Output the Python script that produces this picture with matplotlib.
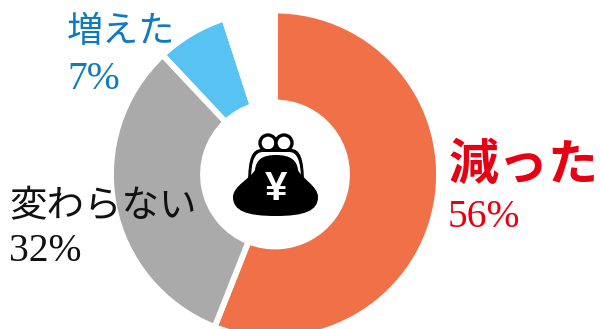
import matplotlib
matplotlib.use("Agg")
import matplotlib.pyplot as plt
from matplotlib.path import Path
from matplotlib.patches import PathPatch, Circle

W, H = 600, 329

# 5 is the blank wedge at the top left of the ring
labels = ["減った", "変わらない", "増えた", ""]
values = [56, 32, 7, 5]
pct_labels = ["56%", "32%", "7%"]
colors = ["#F07048", "#A9AAA9", "#58C2F2", "#FFFFFF"]

fig = plt.figure(figsize=(W / 100, H / 100), dpi=100)
ax = fig.add_axes([0, 0, 1, 1])

cx, cy = 275, 174.5


def py(y):
    # picture rows to axes y
    return H - y


ax.pie(
    values,
    colors=colors,
    startangle=90,
    counterclock=False,
    center=(cx, py(cy)),
    radius=164,
    wedgeprops=dict(width=92, edgecolor="white", linewidth=4.2),
)
ax.set_xlim(0, W)
ax.set_ylim(0, H)
ax.set_aspect("equal")
ax.axis("off")

jp = ["Noto Sans CJK JP", "DejaVu Sans"]
serif = ["Liberation Serif", "DejaVu Serif"]

ax.text(67, py(32), labels[2], color="#0F7AC0", fontsize=26, family=jp, va="center", ha="left")
ax.text(67, py(89), pct_labels[2], color="#0F7AC0", fontsize=28.5, family=serif, va="baseline", ha="left")
ax.text(9, py(207), labels[1], color="#111111", fontsize=27, family=jp, va="center", ha="left", zorder=6)
ax.text(9, py(261), pct_labels[1], color="#111111", fontsize=28.5, family=serif, va="baseline", ha="left")
ax.text(449, py(165), labels[0], color="#E60012", fontsize=36, family=jp, weight="bold", va="center", ha="left")
ax.text(448, py(227), pct_labels[0], color="#E60012", fontsize=28.5, family=serif, va="baseline", ha="left")

# purse icon
ax.add_patch(Circle((268, py(143)), 8, fc="white", ec="black", lw=2.4, zorder=3))
ax.add_patch(Circle((284, py(143)), 8, fc="white", ec="black", lw=2.4, zorder=3))

outer = [(248, 185), (248, 158), (252, 149), (262, 149), (291, 149), (300, 149), (304, 158), (304, 185)]
codes = [Path.MOVETO] + [Path.CURVE4] * 3 + [Path.LINETO] + [Path.CURVE4] * 3
ax.add_patch(PathPatch(Path([(x, py(y)) for x, y in outer], codes), fc="black", ec="none", zorder=3))
band = [(251, 182), (251, 160), (255, 152), (263, 152), (289, 152), (297, 152), (301, 160), (301, 182)]
ax.add_patch(PathPatch(Path([(x, py(y)) for x, y in band], codes), fc="white", ec="none", zorder=3))

body = [
    (255, 170), (256, 160), (262, 155), (276, 155),
    (290, 155), (297, 160), (298, 170),
    (301, 178), (318, 186), (318, 197),
    (318, 211), (304, 216), (276, 216),
    (247, 216), (233, 211), (233, 197),
    (233, 186), (251, 178), (255, 170),
]
body_codes = [Path.MOVETO] + [Path.CURVE4] * 18
ax.add_patch(PathPatch(Path([(x, py(y)) for x, y in body], body_codes), fc="black", ec="none", zorder=4))

ax.text(276.5, py(189), "¥", color="white", fontsize=29, weight="bold", family="Liberation Sans", ha="center", va="center", zorder=5)

fig.savefig("out.png", dpi=100)
